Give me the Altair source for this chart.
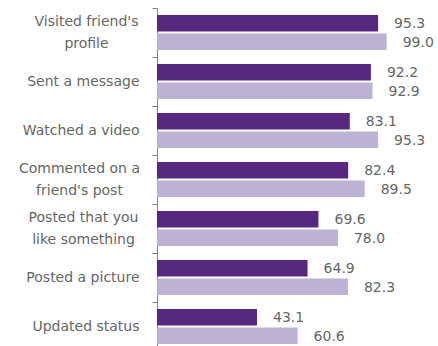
import json
import altair as alt
import pandas as pd

categories = [
    "Visited friend's profile",
    "Sent a message",
    "Watched a video",
    "Commented on a friend's post",
    "Posted that you like something",
    "Posted a picture",
    "Updated status",
]
series_names = ["Series 1", "Series 2"]
series1 = [95.3, 92.2, 83.1, 82.4, 69.6, 64.9, 43.1]
series2 = [99.0, 92.9, 95.3, 89.5, 78.0, 82.3, 60.6]
wrapped = {
    "Visited friend's profile": ["Visited friend's", "profile"],
    "Commented on a friend's post": ["Commented on a", "friend's post"],
    "Posted that you like something": ["Posted that you", "like something"],
}

FONT_SIZE = 14
BASE_PAD = 13


def em_width(s):
    # rough glyph widths (em) for DejaVu Sans
    w = 0.0
    for ch in s:
        if ch in "il'j.,:;|":
            w += 0.28
        elif ch in "ftr ":
            w += 0.36
        elif ch in "mwMW":
            w += 0.97
        elif ch.isupper():
            w += 0.70
        else:
            w += 0.61
    return w


rows = []
for c, a, b in zip(categories, series1, series2):
    rows.append({"activity": c, "series": series_names[0], "value": a})
    rows.append({"activity": c, "series": series_names[1], "value": b})
df = pd.DataFrame(rows)

expr = "datum.value"
for k, v in wrapped.items():
    expr = f"datum.value == {json.dumps(k)} ? {json.dumps(v)} : ({expr})"
is_wrapped = f"indexof({json.dumps(list(wrapped))}, datum.value) >= 0"

# wrapped labels are centred as a block whose right edge sits where the right-aligned labels end
pad_conditions = [
    {
        "test": f"datum.value == {json.dumps(k)}",
        "value": BASE_PAD + round(max(em_width(l) for l in v) * FONT_SIZE / 2),
    }
    for k, v in wrapped.items()
]

dark, light = "#57287f", "#bcb2d4"
font = "DejaVu Sans"
txt = "#666666"

y_axis = alt.Axis(
    tickBand="extent",
    labelExpr=expr,
    labelAlign={"condition": {"test": is_wrapped, "value": "center"}, "value": "right"},
    labelBaseline="middle",
    labelOffset={"condition": {"test": is_wrapped, "value": -11}, "value": 0},
    labelPadding={"condition": pad_conditions, "value": BASE_PAD},
    labelFont=font,
    labelFontSize=FONT_SIZE,
    labelColor=txt,
    labelLineHeight=22,
    labelLimit=200,
    ticks=True,
    tickSize=5,
    tickWidth=1,
    tickOpacity=1,
    tickColor="#7f7f7f",
    domainColor="#868686",
    grid=False,
)
y_scale = alt.Scale(paddingInner=0, paddingOuter=0)
yoff = alt.YOffset(
    "series:N",
    sort=series_names,
    scale=alt.Scale(paddingInner=0.1, paddingOuter=0.38),
)

bars = alt.Chart(df).mark_bar().encode(
    y=alt.Y("activity:N", sort=categories, title=None, scale=y_scale, axis=y_axis),
    yOffset=yoff,
    x=alt.X("value:Q", scale=alt.Scale(domain=[0, 100]), axis=None),
    color=alt.Color("series:N", scale=alt.Scale(domain=series_names, range=[dark, light]), legend=None),
)
labels = alt.Chart(df).mark_text(
    align="left", baseline="middle", dx=16, dy=1, font=font, fontSize=FONT_SIZE, color=txt
).encode(
    y=alt.Y("activity:N", sort=categories, title=None, scale=y_scale, axis=y_axis),
    yOffset=yoff,
    x=alt.X("value:Q", scale=alt.Scale(domain=[0, 100]), axis=None),
    text=alt.Text("value:Q", format=".1f"),
)

chart = alt.layer(bars, labels).properties(
    width=232,
    height=343,
    padding={"left": 157, "top": 8, "right": 49, "bottom": 0},
    autosize=alt.AutoSizeParams(type="none"),
    background="white",
).configure_view(stroke=None)

chart.save("out.html", embed_options={"renderer": "svg", "actions": False})
